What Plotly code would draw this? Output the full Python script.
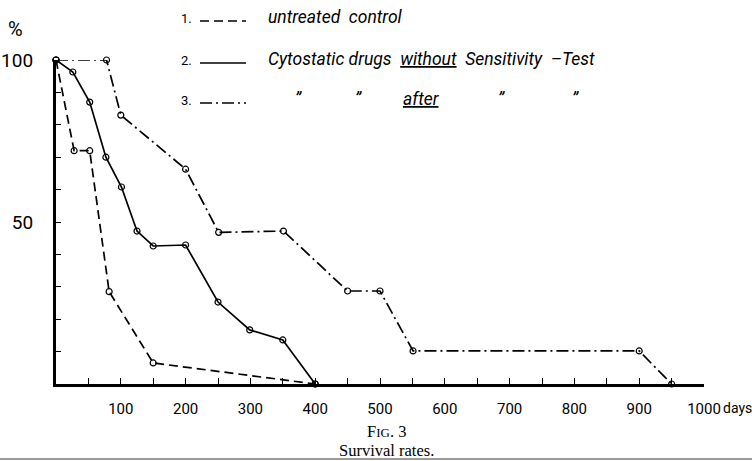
import plotly.graph_objects as go

# ---- data (days, survival %) ----
control_days = [0, 28, 52, 82, 150, 400]
control_pct = [100, 72, 72, 28.5, 6.5, 0]

without_days = [0, 26, 52, 77, 101, 125, 150, 200, 250, 299, 350, 400]
without_pct = [100, 96.3, 87, 70, 60.8, 47.2, 42.6, 42.9, 25.3, 16.7, 13.6, 0]

after_days = [0, 78, 100, 200, 251, 351, 450, 500, 551, 900, 950]
after_pct = [100, 100, 83, 66.3, 46.8, 47.2, 28.7, 28.7, 10.2, 10.2, 0]

x_tick_vals = list(range(50, 1001, 50))
x_tick_text = [str(v) if v % 100 == 0 else "" for v in x_tick_vals]
y_tick_vals = list(range(0, 101, 10))
y_tick_text = ["100" if v == 100 else ("50" if v == 50 else "") for v in y_tick_vals]

W, H = 752, 461
L, R, T, B = 56, 48, 60, 77
PW, PH = W - L - R, H - T - B


def px(x):
    return (x - L) / PW


def py(y):
    return (H - B - y) / PH


FONT = "Roboto, sans-serif"

fig = go.Figure()

marker = dict(symbol="circle-open", size=6, color="black", line=dict(width=1.2, color="black"))

fig.add_trace(go.Scatter(x=control_days, y=control_pct, mode="lines+markers",
                         name="untreated control",
                         line=dict(color="black", width=1.7, dash="9px,5px"),
                         marker=marker, cliponaxis=False))
fig.add_trace(go.Scatter(x=without_days, y=without_pct, mode="lines+markers",
                         name="Cytostatic drugs without Sensitivity-Test",
                         line=dict(color="black", width=1.7),
                         marker=marker, cliponaxis=False))
fig.add_trace(go.Scatter(x=after_days, y=after_pct, mode="lines+markers",
                         name="Cytostatic drugs after Sensitivity-Test",
                         line=dict(color="black", width=1.7, dash="12px,4px,2px,4px"),
                         marker=marker, cliponaxis=False))

fig.update_layout(
    width=W, height=H,
    margin=dict(l=L, r=R, t=T, b=B),
    paper_bgcolor="white", plot_bgcolor="white",
    showlegend=False,
    font=dict(family=FONT, color="black", size=15),
)

fig.update_xaxes(range=[0, 1000], showgrid=False, zeroline=False, automargin=False,
                 showline=True, linecolor="black", linewidth=2.5,
                 ticks="inside", ticklen=6, tickwidth=1.2, tickcolor="black",
                 tickvals=x_tick_vals, ticktext=x_tick_text,
                 tickfont=dict(family=FONT, size=15), ticklabelstandoff=9)
fig.update_yaxes(range=[0, 100], showgrid=False, zeroline=False, automargin=False,
                 showline=True, linecolor="black", linewidth=3.2,
                 ticks="inside", ticklen=5, tickwidth=1.2, tickcolor="black",
                 tickvals=y_tick_vals, ticktext=y_tick_text,
                 tickfont=dict(family=FONT, size=19), ticklabelstandoff=16)


def A(x, y, text, xanchor="center", font=None):
    return dict(x=px(x), y=py(y), xref="paper", yref="paper", text=text,
                showarrow=False, xanchor=xanchor, yanchor="middle",
                font=font or dict(family=FONT, size=15, color="black"))


ann = []
ann.append(A(15, 29, "%", font=dict(family=FONT, size=20, color="black")))
ann.append(A(721, 408, "days", xanchor="left", font=dict(family=FONT, size=14, color="black")))

LEG_FONT = dict(family=FONT, size=17.5, color="black", style="italic")
rows = [(18, "1.", "9px,5px"), (60, "2.", "solid"), (100, "3.", "12px,4px,2px,4px")]
shapes = []
for ypx, num, dash in rows:
    ann.append(A(186, ypx, num, font=dict(family=FONT, size=13, color="black")))
    shapes.append(dict(type="line", xref="paper", yref="paper",
                       x0=px(200), x1=px(246), y0=py(ypx + 3), y1=py(ypx + 3),
                       line=dict(color="black", width=1.6, dash=dash)))

ann.append(A(266, 17, "untreated  control", xanchor="left", font=LEG_FONT))
ann.append(A(266, 59, "Cytostatic drugs  <u>without</u>  Sensitivity  \u2013Test",
             xanchor="left", font=LEG_FONT))
for xpx, t in [(298, "\u201d"), (358, "\u201d"), (422, "<u>after</u>"), (502, "\u201d"), (575, "\u201d")]:
    ann.append(A(xpx, 99, t, font=LEG_FONT))

SERIF = dict(family="Liberation Serif, serif", size=16.5, color="black")
ann.append(A(386, 431, "F<span style='font-size:13px'>IG</span>. 3", font=SERIF))
ann.append(A(386, 450, "Survival rates.", font=SERIF))

shapes.append(dict(type="line", xref="paper", yref="paper", x0=px(0), x1=px(W),
                   y0=py(459), y1=py(459), line=dict(color="#9a9a9a", width=2)))

fig.update_layout(annotations=ann, shapes=shapes)

fig.write_html("out.html")
